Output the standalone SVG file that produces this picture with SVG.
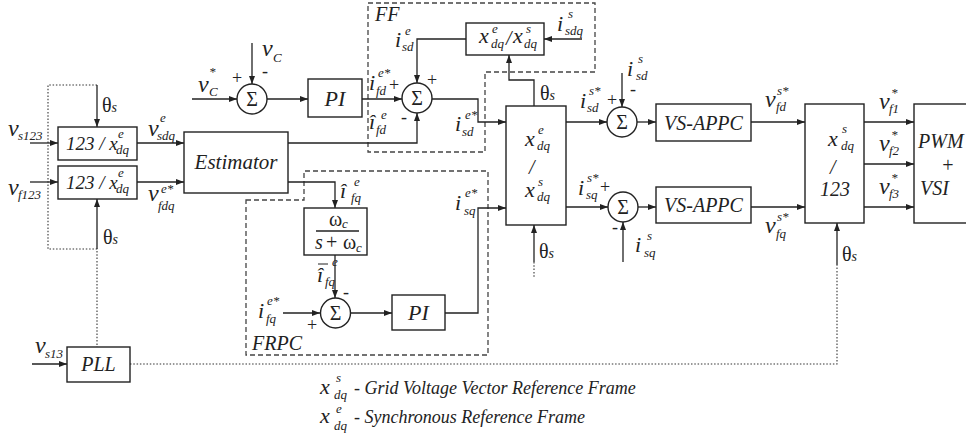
<svg xmlns="http://www.w3.org/2000/svg" width="966" height="435" viewBox="0 0 966 435">
<defs>
<marker id="ar" markerUnits="userSpaceOnUse" markerWidth="8" markerHeight="6" refX="8" refY="3" orient="auto">
<path d="M0,0 L8,3 L0,6 z" fill="#222"/>
</marker>
<style>
text{font-family:"Liberation Serif","Times New Roman",Tinos,Times,"DejaVu Serif",serif;fill:#222}
.v{font-style:italic;font-size:24px}
.m{font-style:italic;font-size:22px}
.s{font-style:italic;font-size:13px}
.t{font-style:italic;font-size:20px}
.g{font-size:20px}
.pm{font-size:18px}
.lg{font-style:italic;font-size:18px}
.box{fill:#fff;stroke:#222;stroke-width:1.4}
.ln{fill:none;stroke:#222;stroke-width:1.3}
.ar{fill:none;stroke:#222;stroke-width:1.3;marker-end:url(#ar)}
.dash{fill:none;stroke:#444;stroke-width:1.3;stroke-dasharray:5,3}
.dot{fill:none;stroke:#333;stroke-width:1.1;stroke-dasharray:1.5,1.8}
</style>
</defs>
<rect width="966" height="435" fill="#fff"/>

<g id="regions">
<path class="dash" d="M368,3 H595 V72 H485 V152 H368 Z"/>
<text class="t" x="375" y="21">FF</text>
<path class="dash" d="M246,200 H304 V171 H488 V355 H246 Z"/>
<text class="t" x="252" y="350">FRPC</text>
</g>

<g id="connectors">
<path class="dot" d="M97,85 H48 V249 H97 V347"/>
<path class="dot" d="M130,364 H837 V265"/>
<path class="dot" d="M534,262 V278"/>
<path class="ar" d="M30,143 H58"/>
<path class="ar" d="M30,182 H58"/>
<path class="ar" d="M97,85 V127"/>
<path class="ar" d="M97,249 V199"/>
<path class="ar" d="M137,143 H184"/>
<path class="ar" d="M137,182 H184"/>
<path class="ar" d="M288,143 H417 V113"/>
<path class="ar" d="M288,182 H335 V208"/>
<path class="ar" d="M192,99 H237"/>
<path class="ar" d="M252,43 V84"/>
<path class="ar" d="M267,99 H308"/>
<path class="ar" d="M362,99 H402"/>
<path class="ar" d="M466,39 H417 V83"/>
<path class="ar" d="M582,39 H544"/>
<path class="ar" d="M432,99 H478 V122 H506"/>
<path class="ar" d="M534,106 V80 H509 V55"/>
<path class="ar" d="M335,255 V298"/>
<path class="ar" d="M283,313 H320"/>
<path class="ar" d="M351,313 H392"/>
<path class="ar" d="M445,313 H478 V208 H506"/>
<path class="ar" d="M566,122 H607"/>
<path class="ar" d="M566,207 H608"/>
<path class="ar" d="M622,73 V107"/>
<path class="ar" d="M623,262 V222"/>
<path class="ar" d="M637,122 H656"/>
<path class="ar" d="M638,207 H656"/>
<path class="ar" d="M751,122 H805"/>
<path class="ar" d="M751,207 H805"/>
<path class="ar" d="M864,122 H914"/>
<path class="ar" d="M864,164 H914"/>
<path class="ar" d="M864,207 H914"/>
<path class="ar" d="M837,265 V223"/>
<path class="ar" d="M534,262 V225"/>
<path class="ar" d="M32,364 H67"/>
</g>

<g id="abc2dq-s">
<rect class="box" x="58" y="127" width="79" height="33"/>
<text class="t" x="66" y="150" style="font-size:19px">123 / x</text>
<text class="s" x="118" y="138">e</text>
<text class="s" x="116" y="154">dq</text>
</g>
<g id="abc2dq-f">
<rect class="box" x="58" y="166" width="79" height="33"/>
<text class="t" x="66" y="189" style="font-size:19px">123 / x</text>
<text class="s" x="118" y="177">e</text>
<text class="s" x="116" y="193">dq</text>
</g>
<g id="estimator">
<rect class="box" x="184" y="132" width="104" height="61"/>
<text class="t" x="236" y="169" text-anchor="middle" style="font-size:21px">Estimator</text>
</g>
<g id="sum-vc">
<circle class="box" cx="252" cy="99" r="15"/>
<text class="g" x="252" y="106" text-anchor="middle">Σ</text>
</g>
<g id="pi-v">
<rect class="box" x="308" y="79" width="54" height="38"/>
<text class="t" x="335" y="106" text-anchor="middle" style="font-size:22px">PI</text>
</g>
<g id="sum-ff">
<circle class="box" cx="417" cy="98" r="15"/>
<text class="g" x="417" y="105" text-anchor="middle">Σ</text>
</g>
<g id="ff-transform">
<rect class="box" x="466" y="23" width="78" height="32"/>
<text class="m" x="479" y="43">x</text>
<text class="s" x="492" y="33">e</text>
<text class="s" x="491" y="48">dq</text>
<text class="t" x="506" y="45">/</text>
<text class="m" x="513" y="43">x</text>
<text class="s" x="526" y="33">s</text>
<text class="s" x="524" y="48">dq</text>
</g>
<g id="transform-e2s">
<rect class="box" x="506" y="106" width="60" height="119"/>
<text class="m" x="525" y="146">x</text>
<text class="s" x="538" y="134">e</text>
<text class="s" x="537" y="150">dq</text>
<text class="t" x="529" y="174">/</text>
<text class="m" x="525" y="197">x</text>
<text class="s" x="538" y="186">s</text>
<text class="s" x="537" y="201">dq</text>
</g>
<g id="lpf">
<rect class="box" x="304" y="208" width="63" height="47"/>
<text class="g" x="329" y="226">ω</text>
<text class="s" x="342" y="228">c</text>
<line class="ln" x1="316" y1="231" x2="359" y2="231"/>
<text class="t" x="315" y="249">s</text>
<text class="g" x="326" y="249">+</text>
<text class="g" x="343" y="249">ω</text>
<text class="s" x="356" y="252">c</text>
</g>
<g id="sum-frpc">
<circle class="box" cx="335.5" cy="313" r="15"/>
<text class="g" x="335.5" y="320" text-anchor="middle">Σ</text>
</g>
<g id="pi-q">
<rect class="box" x="392" y="295" width="53" height="35"/>
<text class="t" x="418.5" y="320" text-anchor="middle" style="font-size:22px">PI</text>
</g>
<g id="sum-d">
<circle class="box" cx="622" cy="122" r="15"/>
<text class="g" x="622" y="129" text-anchor="middle">Σ</text>
</g>
<g id="sum-q">
<circle class="box" cx="623" cy="207" r="15"/>
<text class="g" x="623" y="214" text-anchor="middle">Σ</text>
</g>
<g id="vsappc-d">
<rect class="box" x="656" y="104" width="95" height="37"/>
<text class="t" x="703.5" y="130" text-anchor="middle">VS-APPC</text>
</g>
<g id="vsappc-q">
<rect class="box" x="656" y="187" width="95" height="36"/>
<text class="t" x="703.5" y="212" text-anchor="middle">VS-APPC</text>
</g>
<g id="transform-s2abc">
<rect class="box" x="805" y="104" width="59" height="119"/>
<text class="m" x="828" y="146">x</text>
<text class="s" x="842" y="133">s</text>
<text class="s" x="841" y="150">dq</text>
<text class="t" x="830" y="174">/</text>
<text class="t" x="820" y="196">123</text>
</g>
<g id="pwm-vsi">
<rect class="box" x="914" y="104" width="60" height="119"/>
<text class="t" x="918" y="148">PWM</text>
<text class="t" x="941" y="172">+</text>
<text class="t" x="920" y="195">VSI</text>
</g>
<g id="pll">
<rect class="box" x="67" y="347" width="63" height="35"/>
<text class="t" x="98.5" y="371" text-anchor="middle">PLL</text>
</g>

<g id="labels">
<text class="v" x="8" y="136">v</text><text class="s" x="18" y="140">s123</text>
<text class="v" x="8" y="195">v</text><text class="s" x="18" y="199">f123</text>
<text class="g" x="102" y="112">θ<tspan class="s" style="font-size:14px">s</tspan></text>
<text class="g" x="103" y="244">θ<tspan class="s" style="font-size:14px">s</tspan></text>
<text class="v" x="148" y="136">v</text><text class="s" x="160" y="122">e</text><text class="s" x="157" y="140">sdq</text>
<text class="v" x="148" y="201">v</text><text class="s" x="161" y="193">e*</text><text class="s" x="158" y="210">fdq</text>
<text class="v" x="198" y="92">v</text><text class="s" x="209" y="76">*</text><text class="s" x="209" y="96">C</text>
<text class="v" x="262" y="56">v</text><text class="s" x="273" y="62">C</text>
<text class="pm" x="232" y="84">+</text>
<text class="pm" x="262" y="77">-</text>
<text class="m" x="369" y="90">i</text><text class="s" x="378" y="77">e*</text><text class="s" x="376" y="95">fd</text>
<text class="pm" x="389" y="91">+</text>
<text class="m" x="369" y="129">î</text><text class="s" x="381" y="119">e</text><text class="s" x="376" y="134">fd</text>
<text class="pm" x="401" y="123">-</text>
<text class="pm" x="427" y="86">+</text>
<text class="m" x="395" y="47">i</text><text class="s" x="405" y="35">e</text><text class="s" x="402" y="51">sd</text>
<text class="m" x="455" y="131">i</text><text class="s" x="465" y="119">e*</text><text class="s" x="462" y="136">sd</text>
<text class="m" x="557" y="31">i</text><text class="s" x="568" y="18">s</text><text class="s" x="565" y="35">sdq</text>
<text class="g" x="540" y="100">θ<tspan class="s" style="font-size:14px">s</tspan></text>
<text class="m" x="580" y="108">i</text><text class="s" x="589" y="95">s*</text><text class="s" x="587" y="112">sd</text>
<text class="pm" x="607" y="106">+</text>
<text class="m" x="627" y="76">i</text><text class="s" x="638" y="63">s</text><text class="s" x="636" y="80">sd</text>
<text class="pm" x="630" y="95">-</text>
<text class="m" x="578" y="195">i</text><text class="s" x="587" y="182">s*</text><text class="s" x="586" y="199">sq</text>
<text class="pm" x="600" y="193">+</text>
<text class="pm" x="612" y="233">-</text>
<text class="m" x="635" y="252">i</text><text class="s" x="647" y="240">s</text><text class="s" x="644" y="257">sq</text>
<text class="g" x="539" y="258">θ<tspan class="s" style="font-size:14px">s</tspan></text>
<text class="m" x="340" y="198">î</text><text class="s" x="354" y="186">e</text><text class="s" x="351" y="202">fq</text>
<text class="m" x="317" y="282">î</text><line class="ln" x1="318" y1="264" x2="328" y2="264" style="stroke-width:1"/><text class="s" x="332" y="266">e</text><text class="s" x="325" y="286">fq</text>
<text class="pm" x="343" y="298">-</text>
<text class="pm" x="307" y="331">+</text>
<text class="m" x="258" y="318">i</text><text class="s" x="267" y="305">e*</text><text class="s" x="266" y="323">fq</text>
<text class="m" x="455" y="210">i</text><text class="s" x="465" y="197">e*</text><text class="s" x="464" y="215">sq</text>
<text class="v" x="765" y="107">v</text><text class="s" x="777" y="95">s*</text><text class="s" x="776" y="111">fd</text>
<text class="v" x="765" y="233">v</text><text class="s" x="777" y="221">s*</text><text class="s" x="776" y="238">fq</text>
<text class="v" x="879" y="109">v</text><text class="s" x="891" y="97">*</text><text class="s" x="889" y="113">f1</text>
<text class="v" x="879" y="151">v</text><text class="s" x="891" y="139">*</text><text class="s" x="889" y="155">f2</text>
<text class="v" x="879" y="194">v</text><text class="s" x="891" y="182">*</text><text class="s" x="889" y="198">f3</text>
<text class="g" x="842" y="261">θ<tspan class="s" style="font-size:14px">s</tspan></text>
<text class="v" x="35" y="353">v</text><text class="s" x="45" y="358">s13</text>
</g>

<g id="legend">
<text class="m" x="320" y="394">x</text><text class="s" x="336" y="382">s</text><text class="s" x="334" y="399">dq</text>
<text class="lg" x="354" y="394">- Grid Voltage Vector Reference Frame</text>
<text class="m" x="320" y="423">x</text><text class="s" x="336" y="413">e</text><text class="s" x="334" y="430">dq</text>
<text class="lg" x="354" y="423">- Synchronous Reference Frame</text>
</g>
</svg>
